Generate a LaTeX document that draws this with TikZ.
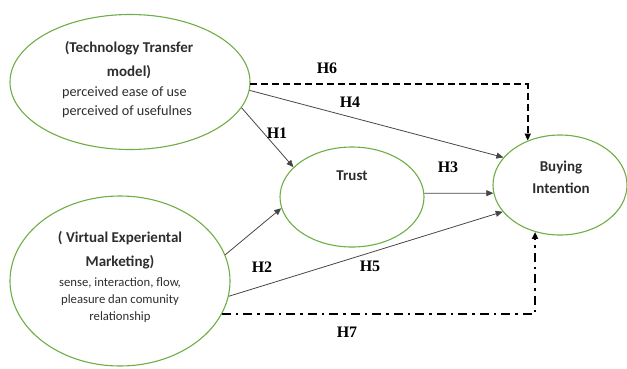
\documentclass[tikz,border=0pt]{standalone}
\usepackage{fontspec}
\setmainfont{Carlito}
\newfontfamily\hfont{Liberation Serif}
\usetikzlibrary{shapes.geometric,arrows.meta}
\definecolor{elgreen}{RGB}{112,173,71}
\definecolor{txtgray}{RGB}{45,45,45}
\definecolor{lngray}{RGB}{70,70,70}
\tikzset{
  oval/.style={ellipse,draw=elgreen,line width=1.1pt,inner sep=0pt},
  title/.style={font=\fontsize{15}{16}\selectfont\bfseries,text=txtgray,align=center,inner sep=0pt},
  body/.style={font=\fontsize{14.2}{19}\selectfont,text=txtgray,inner sep=0pt},
  hyp/.style={font=\hfont\fontsize{16}{16}\selectfont\bfseries,text=black,inner sep=0pt},
  link/.style={draw=lngray,line width=0.8pt,-{Triangle[length=7pt,width=6pt]}},
  dlink/.style={draw=black,line width=1.6pt,dash pattern=on 7pt off 4pt,-{Triangle[length=7pt,width=6pt]}},
  ddlink/.style={draw=black,line width=1.8pt,dash pattern=on 9pt off 5pt on 2.5pt off 5pt,-{Triangle[length=7pt,width=6pt]}}
}
\begin{document}
\begin{tikzpicture}[x=1pt,y=-1pt]
\useasboundingbox (0,0) rectangle (627,368);
\node[oval,minimum width=240pt,minimum height=135pt] (ttm) at (130,82) {};
\node[oval,minimum width=220pt,minimum height=170pt] (vem) at (120,281) {};
\node[oval,minimum width=144pt,minimum height=100pt] (tr) at (352,197) {};
\node[oval,minimum width=134pt,minimum height=100pt] (bi) at (560,185) {};

\node[title] (t1) at (129,48) {(Technology Transfer};
\node[title] (t2) at (129,72) {model)};
\node[body,align=left,anchor=west] (t3) at (62,102.5) {perceived ease of use\\perceived of usefulnes};

\node[title] (v1) at (120,238) {( Virtual Experiental};
\node[title] (v2) at (120,262) {Marketing)};
\node[body,align=center,font=\fontsize{12.7}{17}\selectfont] (v3) at (120,300) {sense, interaction, flow,\\pleasure dan comunity\\relationship};

\node[title] (trt) at (352,176) {Trust};
\node[title,font=\fontsize{15}{22}\selectfont\bfseries] (bit) at (561,177) {Buying\\Intention};

\draw[dlink] (ttm.-1) -| (bi.126);
\draw[link] (ttm.-4) -- (bi.154);
\draw[link] (ttm.-13.6) -- (tr.153);
\draw[link] (tr.3) -- (bi.187);
\draw[link] (vem.14.4) -- (tr.189.5);
\draw[link] (vem.-8.3) -- (bi.205);
\draw[ddlink] (vem.-18) -| (bi.242.5);

\node[hyp] (h6) at (327,68) {H6};
\node[hyp] (h4) at (350,102) {H4};
\node[hyp] (h1) at (277,133) {H1};
\node[hyp] (h3) at (448,167) {H3};
\node[hyp] (h2) at (262,267) {H2};
\node[hyp] (h5) at (370,266) {H5};
\node[hyp] (h7) at (347,332) {H7};
\end{tikzpicture}
\end{document}
